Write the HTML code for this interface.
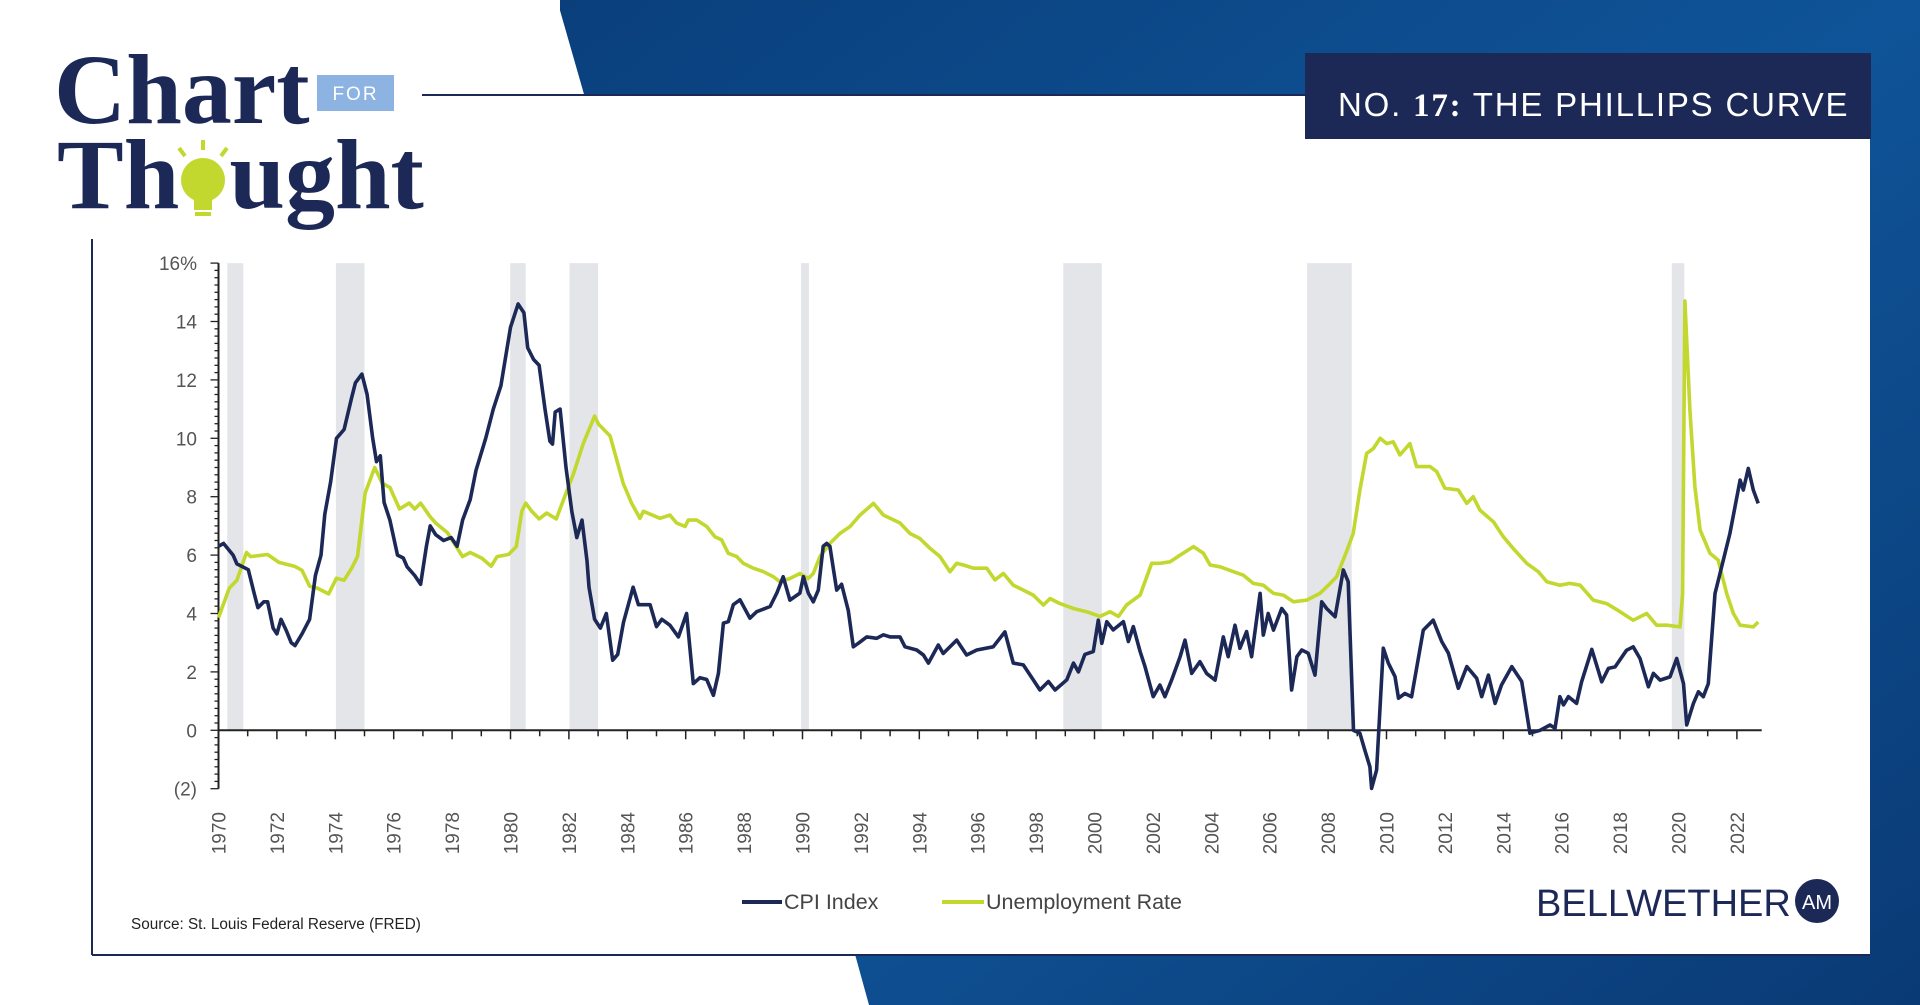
<!DOCTYPE html>
<html><head><meta charset="utf-8"><style>
html,body{margin:0;padding:0;background:#fff;}
body{width:1920px;height:1005px;position:relative;overflow:hidden;font-family:"Liberation Sans",sans-serif;}
svg{position:absolute;left:0;top:0;}
</style></head><body>
<svg id="main" width="1920" height="1005" viewBox="0 0 1920 1005" xmlns="http://www.w3.org/2000/svg">
  <defs>
    <linearGradient id="bg" x1="0" y1="0" x2="1" y2="1">
      <stop offset="0" stop-color="#0a3f7c"/><stop offset="0.5" stop-color="#0f5498"/><stop offset="1" stop-color="#0a3a75"/>
    </linearGradient>
  </defs>
  <polygon points="557,0 1920,0 1920,1005 869,1005 840,900 600,150" fill="url(#bg)"/>
  <rect x="92" y="95" width="1778" height="860" fill="#fff"/>
  <rect x="0" y="0" width="560" height="239" fill="#fff"/>
  <line x1="422" y1="95" x2="1305" y2="95" stroke="#1c2957" stroke-width="2"/>
  <line x1="92" y1="239" x2="92" y2="955" stroke="#1c2957" stroke-width="2"/>
  <line x1="92" y1="955" x2="1870" y2="955" stroke="#1c2957" stroke-width="2"/>
  <g>
    <rect x="1305" y="53" width="566" height="86" fill="#1c2957"/>
    <text x="1338" y="116" fill="#fff" font-size="33" font-family="Liberation Sans, sans-serif" letter-spacing="1.8">NO. <tspan font-family="Liberation Serif, serif" font-weight="bold">17:</tspan> THE PHILLIPS CURVE</text>
  </g>
  <g>
    <text x="54" y="123" fill="#1c2957" font-size="100" font-weight="bold" font-family="Liberation Serif, serif">Chart</text>
    <rect x="317" y="75" width="77" height="36" fill="#8db3e2"/>
    <text x="355.5" y="100" fill="#fff" font-size="19" text-anchor="middle" letter-spacing="2">FOR</text>
    <text x="57" y="208" fill="#1c2957" font-size="100" font-weight="bold" font-family="Liberation Serif, serif">Th<tspan fill="#fff">o</tspan>ught</text>
    <g>
      <circle cx="203" cy="180" r="22" fill="#c2d82e"/>
      <rect x="194" y="198" width="18" height="12" fill="#c2d82e"/>
      <rect x="195" y="212" width="16" height="4" fill="#c2d82e"/>
      <line x1="203" y1="140" x2="203" y2="150" stroke="#c2d82e" stroke-width="4"/>
      <line x1="179" y1="148" x2="185" y2="156" stroke="#c2d82e" stroke-width="4"/>
      <line x1="227" y1="148" x2="221" y2="156" stroke="#c2d82e" stroke-width="4"/>
    </g>
  </g>
  <g id="chart"></g>
  <g>
    <g>
      <line x1="742" y1="902" x2="782" y2="902" stroke="#1c2957" stroke-width="4"/>
      <text x="784" y="909" font-size="21.5" fill="#444">CPI Index</text>
    </g>
    <g>
      <line x1="942" y1="902" x2="984" y2="902" stroke="#c2d82e" stroke-width="4"/>
      <text x="986" y="909" font-size="21.5" fill="#444">Unemployment Rate</text>
    </g>
  </g>
  <text x="131" y="929" font-size="15.3" fill="#222">Source:  St. Louis Federal Reserve (FRED)</text>
  <g>
    <text x="1536" y="916" font-size="38" fill="#1c2957">BELLWETHER</text>
    <circle cx="1817" cy="901" r="22" fill="#1c2957"/>
    <text x="1817" y="909" font-size="20" fill="#fff" text-anchor="middle">AM</text>
  </g>
</svg>
<script>
const cpiYears = [1970.0,1970.17,1970.5,1970.63,1971.02,1971.22,1971.35,1971.55,1971.68,1971.87,1972.0,1972.14,1972.33,1972.49,1972.62,1972.86,1973.12,1973.32,1973.51,1973.64,1973.84,1974.04,1974.3,1974.56,1974.69,1974.91,1975.09,1975.28,1975.41,1975.54,1975.67,1975.87,1976.13,1976.33,1976.46,1976.72,1976.92,1977.12,1977.25,1977.44,1977.71,1977.97,1978.17,1978.36,1978.62,1978.82,1979.15,1979.41,1979.67,1980.0,1980.26,1980.46,1980.59,1980.79,1980.98,1981.18,1981.35,1981.44,1981.53,1981.7,1981.9,1982.1,1982.27,1982.45,1982.62,1982.69,1982.88,1983.08,1983.28,1983.5,1983.67,1983.87,1984.2,1984.38,1984.78,1985.0,1985.18,1985.46,1985.75,1986.03,1986.26,1986.49,1986.72,1986.95,1987.12,1987.29,1987.46,1987.63,1987.86,1988.2,1988.43,1988.89,1989.12,1989.34,1989.57,1989.91,1990.03,1990.2,1990.37,1990.54,1990.71,1990.83,1990.94,1991.06,1991.17,1991.34,1991.57,1991.74,1991.91,1992.2,1992.54,1992.77,1993.0,1993.34,1993.51,1993.91,1994.14,1994.31,1994.65,1994.82,1995.28,1995.62,1995.97,1996.53,1996.93,1997.22,1997.56,1997.9,1998.13,1998.42,1998.65,1999.05,1999.28,1999.45,1999.67,1999.96,2000.13,2000.25,2000.42,2000.64,2000.99,2001.16,2001.33,2001.56,2001.73,2002.01,2002.24,2002.41,2002.64,2002.93,2003.1,2003.33,2003.61,2003.84,2004.13,2004.41,2004.58,2004.81,2004.98,2005.21,2005.38,2005.67,2005.78,2005.95,2006.13,2006.41,2006.58,2006.75,2006.93,2007.1,2007.32,2007.55,2007.78,2007.95,2008.24,2008.52,2008.69,2008.87,2009.09,2009.26,2009.43,2009.49,2009.66,2009.89,2010.06,2010.29,2010.41,2010.63,2010.86,2011.26,2011.6,2011.89,2012.12,2012.46,2012.75,2013.09,2013.26,2013.49,2013.72,2013.94,2014.29,2014.63,2014.91,2015.26,2015.6,2015.77,2015.94,2016.06,2016.23,2016.51,2016.68,2017.03,2017.37,2017.6,2017.83,2018.22,2018.45,2018.68,2018.97,2019.14,2019.37,2019.71,2019.94,2020.17,2020.28,2020.51,2020.68,2020.85,2021.02,2021.25,2021.42,2021.76,2022.11,2022.22,2022.39,2022.56,2022.73];
const cpiValues = [6.3,6.4,6.0,5.7,5.5,4.7,4.2,4.4,4.4,3.5,3.3,3.8,3.4,3.0,2.9,3.3,3.8,5.3,6.0,7.4,8.5,10.0,10.3,11.4,11.9,12.2,11.5,10.0,9.2,9.4,7.8,7.2,6.0,5.9,5.6,5.3,5.0,6.3,7.0,6.7,6.5,6.6,6.3,7.2,7.9,8.9,10.0,11.0,11.8,13.8,14.6,14.3,13.1,12.7,12.5,11.0,9.9,9.8,10.9,11.0,9.0,7.5,6.6,7.2,5.8,4.9,3.8,3.5,4.0,2.4,2.6,3.7,4.9,4.3,4.3,3.55,3.8,3.6,3.2,4.0,1.6,1.8,1.74,1.2,1.95,3.67,3.72,4.3,4.47,3.84,4.06,4.24,4.7,5.26,4.46,4.7,5.26,4.7,4.4,4.8,6.3,6.4,6.3,5.5,4.8,5.0,4.1,2.86,2.98,3.2,3.15,3.27,3.2,3.2,2.86,2.75,2.58,2.3,2.92,2.63,3.09,2.58,2.75,2.86,3.37,2.3,2.24,1.73,1.38,1.67,1.38,1.73,2.3,2.0,2.6,2.7,3.77,2.98,3.72,3.44,3.72,3.04,3.55,2.7,2.18,1.15,1.55,1.15,1.72,2.52,3.09,1.95,2.35,1.95,1.72,3.2,2.52,3.6,2.81,3.38,2.52,4.69,3.26,4.0,3.43,4.17,3.95,1.38,2.52,2.75,2.64,1.89,4.4,4.17,3.89,5.49,5.09,0.0,-0.1,-0.69,-1.25,-1.99,-1.36,2.81,2.3,1.84,1.1,1.26,1.15,3.43,3.77,3.04,2.64,1.44,2.18,1.78,1.15,1.89,0.92,1.55,2.18,1.67,-0.1,0.0,0.18,0.07,1.15,0.87,1.15,0.92,1.66,2.77,1.66,2.12,2.17,2.74,2.86,2.46,1.49,1.95,1.72,1.83,2.46,1.6,0.18,0.92,1.32,1.15,1.6,4.68,5.37,6.74,8.57,8.23,8.97,8.23,7.77];
const unempYears = [1970.0,1970.37,1970.63,1970.96,1971.1,1971.68,1972.07,1972.6,1972.86,1973.12,1973.38,1973.77,1974.04,1974.3,1974.56,1974.76,1975.02,1975.35,1975.61,1975.87,1976.2,1976.53,1976.72,1976.92,1977.25,1977.44,1977.84,1978.1,1978.36,1978.62,1979.02,1979.34,1979.54,1979.93,1980.2,1980.39,1980.52,1980.72,1980.98,1981.24,1981.57,1981.9,1982.16,1982.49,1982.88,1983.01,1983.41,1983.6,1983.86,1984.15,1984.43,1984.55,1985.12,1985.46,1985.69,1985.98,1986.09,1986.38,1986.72,1987.0,1987.23,1987.46,1987.75,1987.97,1988.32,1988.66,1989.0,1989.23,1989.57,1989.91,1990.2,1990.37,1990.6,1990.94,1991.28,1991.63,1991.97,1992.43,1992.77,1993.0,1993.34,1993.68,1994.02,1994.37,1994.71,1995.05,1995.28,1995.51,1995.85,1996.31,1996.59,1996.88,1997.22,1997.56,1997.9,1998.25,1998.48,1998.82,1999.28,1999.73,2000.19,2000.53,2000.82,2001.1,2001.56,2001.96,2002.24,2002.59,2002.93,2003.39,2003.73,2003.96,2004.3,2004.76,2005.1,2005.44,2005.78,2006.13,2006.47,2006.81,2007.27,2007.72,2008.01,2008.29,2008.63,2008.86,2009.09,2009.32,2009.55,2009.78,2010.01,2010.23,2010.46,2010.8,2011.03,2011.49,2011.72,2012.0,2012.46,2012.75,2012.97,2013.2,2013.66,2014.0,2014.34,2014.8,2015.2,2015.49,2015.94,2016.28,2016.63,2017.08,2017.54,2018.0,2018.45,2018.91,2019.25,2019.6,2020.05,2020.14,2020.22,2020.39,2020.56,2020.74,2021.08,2021.36,2021.65,2021.88,2022.11,2022.56,2022.73];
const unempValues = [3.86,4.87,5.14,6.09,5.95,6.02,5.75,5.62,5.48,4.94,4.87,4.67,5.21,5.14,5.55,5.95,8.12,9.0,8.46,8.32,7.58,7.78,7.58,7.78,7.31,7.1,6.77,6.36,5.95,6.09,5.89,5.62,5.95,6.02,6.29,7.51,7.78,7.51,7.24,7.44,7.24,8.12,8.8,9.81,10.76,10.49,10.08,9.4,8.46,7.77,7.26,7.5,7.26,7.37,7.1,6.98,7.2,7.2,6.98,6.63,6.52,6.06,5.95,5.72,5.55,5.43,5.26,5.09,5.2,5.37,5.2,5.37,5.95,6.4,6.74,6.98,7.37,7.77,7.37,7.26,7.1,6.74,6.57,6.23,5.95,5.43,5.72,5.66,5.55,5.55,5.15,5.37,4.97,4.8,4.63,4.29,4.51,4.34,4.17,4.06,3.9,4.06,3.9,4.29,4.63,5.72,5.72,5.77,6.0,6.29,6.06,5.66,5.6,5.43,5.31,5.03,4.97,4.69,4.63,4.4,4.46,4.69,4.97,5.26,6.12,6.74,8.23,9.48,9.65,10.0,9.82,9.88,9.43,9.82,9.03,9.03,8.86,8.29,8.23,7.77,8.0,7.54,7.14,6.63,6.23,5.72,5.43,5.09,4.97,5.03,4.97,4.46,4.34,4.06,3.77,4.0,3.6,3.6,3.54,4.68,14.7,10.97,8.34,6.86,6.06,5.83,4.68,4.0,3.6,3.54,3.71];
const recessionStarts = [1970.3,1974.02,1979.99,1982.02,1989.95,1998.93,2007.28,2019.77];
const recessionEnds = [1970.85,1975.0,1980.52,1983.0,1990.22,2000.25,2008.81,2020.2];
const yTickValues = [16,14,12,10,8,6,4,2,0,-2];
const yTickLabels = ["16%","14","12","10","8","6","4","2","0","(2)"];
const xTickYears = [1970,1972,1974,1976,1978,1980,1982,1984,1986,1988,1990,1992,1994,1996,1998,2000,2002,2004,2006,2008,2010,2012,2014,2016,2018,2020,2022];

const X0=218.5, PXY=29.2, Y0=730.3, PXV=29.2;
function xs(y){return X0+(y-1970)*PXY;}
function ys(v){return Y0-v*PXV;}
const NS="http://www.w3.org/2000/svg";
const g=document.getElementById('chart');
function mk(tag,attrs,parent){const e=document.createElementNS(NS,tag);for(const k in attrs)e.setAttribute(k,attrs[k]);(parent||g).appendChild(e);return e;}

const vMin=yTickValues[yTickValues.length-1], vMax=yTickValues[0];
for(let i=0;i<recessionStarts.length;i++){
  const r=mk('rect',{x:xs(recessionStarts[i]),y:ys(vMax),width:xs(recessionEnds[i])-xs(recessionStarts[i]),height:ys(0)-ys(vMax),fill:'#e3e5e9'});
  
  
}
const ya=mk('line',{x1:X0,y1:ys(vMax),x2:X0,y2:ys(vMin),stroke:'#222','stroke-width':2});


for(let v=vMin;v<=vMax+0.001;v+=0.25){
  const major=Math.abs(v-Math.round(v/2)*2)<0.001;
  mk('line',{x1:X0-(major?8:4),y1:ys(v),x2:X0,y2:ys(v),stroke:'#222','stroke-width':1.3});
}
for(let i=0;i<yTickValues.length;i++){
  const t=mk('text',{x:197,y:ys(yTickValues[i])+7,'text-anchor':'end','font-size':19,fill:'#555'});
  t.textContent=yTickLabels[i];
  
  
}
const xEnd=xs(2022.85);
const xa=mk('line',{x1:X0,y1:Y0,x2:xEnd,y2:Y0,stroke:'#222','stroke-width':2});


for(let y=1970;y<=2022;y++){
  const even=y%2===0;
  mk('line',{x1:xs(y),y1:Y0,x2:xs(y),y2:Y0+(even?9:6),stroke:'#222','stroke-width':1.5});
}
for(const yr of xTickYears){
  const t=mk('text',{x:0,y:0,'font-size':19,fill:'#555','text-anchor':'end',transform:`translate(${xs(yr)+7},812) rotate(-90)`});
  t.textContent=String(yr);
  
  
}
function path(xsArr,vals,color,name){
  let d='';
  for(let i=0;i<xsArr.length;i++){d+=(i?'L':'M')+xs(xsArr[i]).toFixed(1)+','+ys(vals[i]).toFixed(1);}
  const p=mk('path',{d:d,fill:'none',stroke:color,'stroke-width':3.6,'stroke-linejoin':'round'});
  
  
}
path(unempYears,unempValues,'#c2d82e','unemployment-line');
path(cpiYears,cpiValues,'#1c2957','cpi-line');
</script>
</body></html>
